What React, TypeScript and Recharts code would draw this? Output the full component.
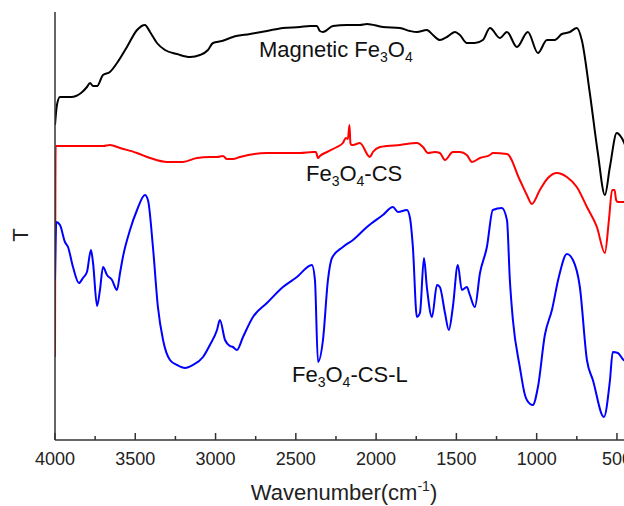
import { Label, Line, LineChart, ReferenceDot, XAxis, YAxis } from "recharts";

// wavenumbers (cm-1) and transmittance (arbitrary, offset per curve)
const blackWn = [4000, 3988, 3969, 3938, 3900, 3869, 3838, 3801, 3782, 3763, 3738, 3701, 3658, 3614, 3552, 3489, 3440, 3408, 3365, 3315, 3240, 3159, 3097, 3047, 3016, 2960, 2892, 2786, 2680, 2580, 2474, 2412, 2369, 2350, 2331, 2269, 2182, 2101, 2057, 1958, 1852, 1789, 1746, 1684, 1646, 1603, 1559, 1509, 1478, 1435, 1385, 1335, 1291, 1229, 1185, 1123, 1055, 992, 936, 887, 843, 793, 750, 719, 669, 619, 575, 544, 501, 470, 440, 410];
const blackT = [315, 335, 343, 343, 343, 344, 347, 353, 357, 354, 354, 365, 368, 377, 393, 410, 415, 408, 397, 390, 386, 383, 385, 390, 397, 399, 403, 406, 409, 412, 413, 414, 414, 409, 408, 414, 415, 415, 416, 413, 412, 409, 408, 410, 405, 400, 403, 408, 405, 397, 397, 400, 412, 402, 408, 393, 408, 387, 400, 400, 406, 408, 412, 400, 347, 287, 245, 273, 307, 302, 292, 285];

const redWn = [4000, 3996, 3850, 3700, 3658, 3595, 3489, 3408, 3302, 3203, 3116, 3035, 2991, 2954, 2929, 2892, 2848, 2680, 2474, 2393, 2375, 2362, 2350, 2306, 2244, 2207, 2188, 2176, 2166, 2160, 2154, 2144, 2101, 2039, 2020, 1976, 1933, 1852, 1746, 1708, 1677, 1634, 1603, 1571, 1522, 1478, 1435, 1403, 1353, 1291, 1273, 1185, 1105, 1061, 1030, 980, 930, 874, 812, 750, 687, 625, 575, 550, 530, 515, 505, 494, 458, 410];
const redT = [83, 294, 294, 294, 295, 292, 287, 282, 278, 278, 282, 283, 283, 284, 281, 281, 283, 287, 287, 288, 288, 282, 284, 288, 293, 297, 302, 301, 315, 297, 295, 295, 297, 283, 288, 293, 294, 295, 297, 293, 287, 288, 287, 280, 288, 288, 285, 278, 282, 285, 287, 286, 260, 245, 236, 250, 262, 267, 263, 253, 233, 213, 187, 220, 250, 250, 240, 238, 238, 237];

const blueWn = [4000, 3992, 3969, 3938, 3919, 3888, 3851, 3826, 3801, 3776, 3763, 3738, 3720, 3701, 3676, 3645, 3614, 3595, 3577, 3533, 3489, 3440, 3421, 3390, 3359, 3327, 3284, 3240, 3190, 3141, 3078, 3035, 2991, 2973, 2941, 2910, 2892, 2867, 2829, 2767, 2680, 2580, 2493, 2400, 2381, 2362, 2331, 2300, 2275, 2207, 2144, 2057, 1958, 1895, 1864, 1808, 1789, 1771, 1746, 1727, 1702, 1684, 1652, 1621, 1603, 1571, 1547, 1522, 1491, 1466, 1435, 1416, 1385, 1353, 1310, 1273, 1217, 1185, 1167, 1148, 1105, 1073, 1061, 1024, 992, 949, 905, 862, 812, 774, 731, 687, 650, 581, 544, 526, 494, 458, 410];
const blueT = [160, 218, 215, 198, 193, 173, 157, 162, 168, 190, 177, 134, 150, 173, 165, 160, 150, 167, 183, 210, 230, 245, 240, 193, 133, 100, 80, 75, 72, 75, 83, 95, 110, 120, 100, 94, 93, 90, 103, 123, 137, 153, 163, 175, 160, 78, 100, 160, 182, 193, 200, 213, 225, 233, 228, 230, 222, 193, 123, 127, 182, 153, 123, 155, 153, 127, 110, 133, 175, 150, 153, 145, 133, 167, 193, 230, 232, 220, 160, 120, 73, 45, 40, 35, 53, 105, 130, 163, 186, 180, 153, 80, 60, 23, 59, 88, 87, 80, 78];

const xTicks = [4000, 3750, 3500, 3250, 3000, 2750, 2500, 2250, 2000, 1750, 1500, 1250, 1000, 750, 500];

// curve labels: [main text, anchor wavenumber, anchor T]
const labelText = ["Magnetic Fe", "Fe", "Fe"];
const labelTail = ["", "-CS", "-CS-L"];
const labelWn = [2730, 2437, 2524];
const labelT = [383, 259, 58];

const FONT = "'Liberation Sans', Arial, sans-serif";
const AXIS = "#333";

const toRows = (wn: number[], t: number[]) => wn.map((w, i) => ({ wn: w, t: t[i] }));

function XTick(props: any) {
  const { x, y, payload } = props;
  const major = payload.value % 500 === 0;
  return (
    <g>
      <line x1={x} y1={y} x2={x} y2={y - (major ? 7 : 4)} stroke={AXIS} strokeWidth={1.5} />
      {major && (
        <text x={x} y={y + 25} textAnchor="middle" fontSize={18} fill="#222" fontFamily={FONT}>
          {payload.value}
        </text>
      )}
    </g>
  );
}

function XLabel(props: any) {
  const vb = props.viewBox || { x: 55, y: 440, width: 578, height: 66 };
  return (
    <text x={vb.x + vb.width / 2} y={vb.y + 60} textAnchor="middle" fontSize={22} fill="#222" fontFamily={FONT}>
      Wavenumber(cm<tspan fontSize={14} dy={-9}>-1</tspan>
      <tspan dy={9}>)</tspan>
    </text>
  );
}

function YLabel(props: any) {
  const vb = props.viewBox || { x: 0, y: 12, width: 55, height: 428 };
  const cx = vb.x + 20;
  const cy = vb.y + vb.height / 2 + 9;
  return (
    <text x={cx} y={cy} transform={`rotate(-90 ${cx} ${cy})`} textAnchor="middle" dominantBaseline="central" fontSize={22} fill="#222" fontFamily={FONT}>
      T
    </text>
  );
}

const curveLabel = (i: number) => (props: any) => (
  <text x={props.cx} y={props.cy} fontSize={22} fill="#111" fontFamily={FONT}>
    {labelText[i]}
    <tspan fontSize={14} dy={5}>3</tspan>
    <tspan dy={-5}>O</tspan>
    <tspan fontSize={14} dy={5}>4</tspan>
    <tspan dy={-5}>{labelTail[i]}</tspan>
  </text>
);

export default function App() {
  return (
    <div style={{ position: "absolute", left: 0, top: 0, width: 624, height: 506, overflow: "hidden", background: "#fff" }}>
      <LineChart width={638} height={506} margin={{ top: 12, right: 5, bottom: 0, left: 0 }}>
        <XAxis
          xAxisId={0}
          type="number"
          dataKey="wn"
          domain={[400, 4000]}
          reversed
          allowDataOverflow
          ticks={xTicks}
          interval={0}
          tick={<XTick />}
          tickLine={false}
          tickSize={0}
          tickMargin={0}
          height={66}
          axisLine={{ stroke: AXIS, strokeWidth: 1.5 }}
        >
          <Label content={XLabel} />
        </XAxis>
        <XAxis
          xAxisId="top"
          orientation="top"
          type="number"
          dataKey="wn"
          domain={[400, 4000]}
          reversed
          allowDataOverflow
          tick={false}
          tickLine={false}
          height={0}
          axisLine={{ stroke: AXIS, strokeWidth: 1.5 }}
        />
        <YAxis
          type="number"
          domain={[0, 428]}
          allowDataOverflow
          tick={false}
          tickLine={false}
          width={55}
          axisLine={{ stroke: AXIS, strokeWidth: 1.5 }}
        >
          <Label content={YLabel} />
        </YAxis>
        <Line data={toRows(blackWn, blackT)} dataKey="t" type="monotone" stroke="#000" strokeWidth={2} dot={false} isAnimationActive={false} />
        <Line data={toRows(redWn, redT)} dataKey="t" type="monotone" stroke="#ff0000" strokeWidth={2} dot={false} isAnimationActive={false} />
        <Line data={toRows(blueWn, blueT)} dataKey="t" type="monotone" stroke="#0000ff" strokeWidth={2} dot={false} isAnimationActive={false} />
        {labelWn.map((w, i) => (
          <ReferenceDot key={i} x={w} y={labelT[i]} r={0} shape={curveLabel(i)} />
        ))}
      </LineChart>
    </div>
  );
}
